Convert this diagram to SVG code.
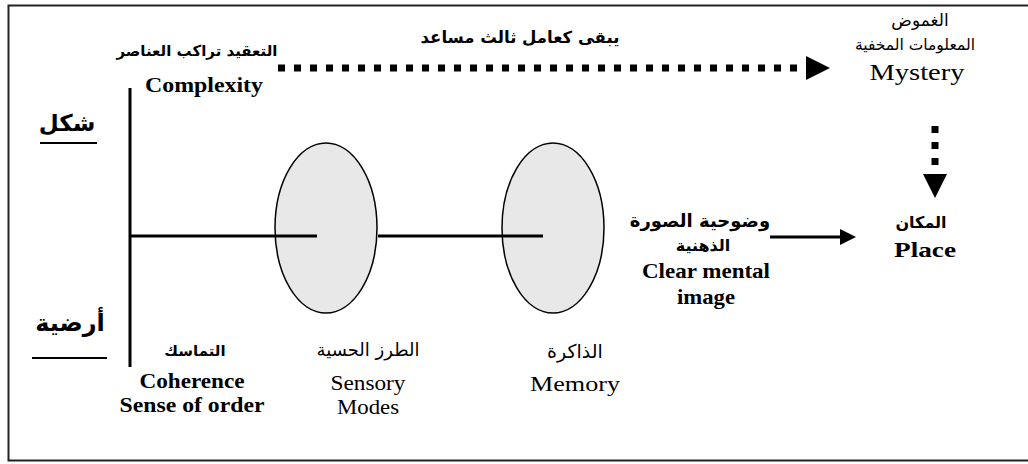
<svg xmlns="http://www.w3.org/2000/svg" width="1028" height="464" viewBox="0 0 1028 464">
<style>
.en{font-family:"Liberation Serif","Times New Roman",serif;fill:#000;text-anchor:middle}
.b{font-weight:bold}
.ar{font-family:"DejaVu Sans","Noto Sans",sans-serif;fill:#000;text-anchor:middle}
.ln{stroke:#000;stroke-width:3;fill:none}
.ell{fill:#e8e8e8;stroke:#000;stroke-width:1.5}
.dot{stroke:#000;stroke-width:7;stroke-dasharray:7 9;fill:none}
.ul{stroke:#000;stroke-width:2}
</style>
<defs>
<marker id="bigHead" markerUnits="userSpaceOnUse" markerWidth="24" markerHeight="24" viewBox="0 0 24 24" refX="0" refY="12" orient="auto">
<path d="M0,0 L24,12 L0,24 z" fill="#000"/>
</marker>
<marker id="smallHead" markerUnits="userSpaceOnUse" markerWidth="16" markerHeight="16" viewBox="0 0 16 16" refX="0" refY="8" orient="auto">
<path d="M0,0 L16,8 L0,16 z" fill="#000"/>
</marker>
</defs>
<rect x="8.5" y="5.5" width="1030" height="455" fill="#fff" stroke="#222" stroke-width="2"/>

<g id="connectors">
<line class="dot" x1="278" y1="68" x2="806" y2="68" marker-end="url(#bigHead)"/>
<line class="dot" x1="935" y1="126" x2="935" y2="174" marker-end="url(#bigHead)"/>
<line class="ln" x1="130" y1="88" x2="130" y2="367"/>
<line class="ln" x1="130" y1="236" x2="317" y2="236"/>
<line class="ln" x1="378" y1="236" x2="543" y2="236"/>
<line class="ln" x1="770" y1="237" x2="840" y2="237" marker-end="url(#smallHead)"/>
</g>

<g id="ellipse-sensory">
<ellipse class="ell" cx="326" cy="228" rx="51" ry="85"/>
<line class="ln" x1="275" y1="236" x2="317" y2="236"/>
</g>
<g id="ellipse-memory">
<ellipse class="ell" cx="553" cy="228" rx="51" ry="85"/>
<line class="ln" x1="502" y1="236" x2="543" y2="236"/>
</g>

<g id="third-factor">
<text class="ar b" x="520" y="43" font-size="16.5">يبقى كعامل ثالث مساعد</text>
</g>

<g id="complexity">
<text class="ar b" x="197" y="56" font-size="15">التعقيد تراكب العناصر</text>
<text class="en b" x="204" y="92" font-size="21" textLength="118" lengthAdjust="spacingAndGlyphs">Complexity</text>
</g>

<g id="shape">
<text class="ar b" x="67" y="131" font-size="23">شكل</text>
<line class="ul" x1="40" y1="143" x2="97" y2="143"/>
</g>

<g id="ground">
<text class="ar b" x="70" y="331" font-size="24">أرضية</text>
<line class="ul" x1="32" y1="358" x2="107" y2="358"/>
</g>

<g id="coherence">
<text class="ar b" x="195" y="356" font-size="15">التماسك</text>
<text class="en b" x="192" y="388" font-size="21" textLength="105" lengthAdjust="spacingAndGlyphs">Coherence</text>
<text class="en b" x="192" y="412" font-size="21" textLength="145" lengthAdjust="spacingAndGlyphs">Sense of order</text>
</g>

<g id="sensory">
<text class="ar" x="368" y="356" font-size="18">الطرز الحسية</text>
<text class="en" x="368" y="390" font-size="21" textLength="75" lengthAdjust="spacingAndGlyphs">Sensory</text>
<text class="en" x="368" y="414" font-size="21" textLength="62" lengthAdjust="spacingAndGlyphs">Modes</text>
</g>

<g id="memory">
<text class="ar" x="575" y="358" font-size="19">الذاكرة</text>
<text class="en" x="575" y="391" font-size="22" textLength="90" lengthAdjust="spacingAndGlyphs">Memory</text>
</g>

<g id="mental-image">
<text class="ar b" x="700" y="227" font-size="18">وضوحية الصورة</text>
<text class="ar b" x="703" y="251" font-size="16">الذهنية</text>
<text class="en b" x="706" y="278" font-size="21" textLength="128" lengthAdjust="spacingAndGlyphs">Clear mental</text>
<text class="en b" x="706" y="304" font-size="21" textLength="58" lengthAdjust="spacingAndGlyphs">image</text>
</g>

<g id="place">
<text class="ar b" x="921" y="228" font-size="16">المكان</text>
<text class="en b" x="925" y="257" font-size="22" textLength="62" lengthAdjust="spacingAndGlyphs">Place</text>
</g>

<g id="mystery">
<text class="ar" x="920" y="26" font-size="17">الغموض</text>
<text class="ar" x="915" y="50" font-size="15.5">المعلومات المخفية</text>
<text class="en" x="917" y="80" font-size="24" textLength="95" lengthAdjust="spacingAndGlyphs">Mystery</text>
</g>
</svg>
